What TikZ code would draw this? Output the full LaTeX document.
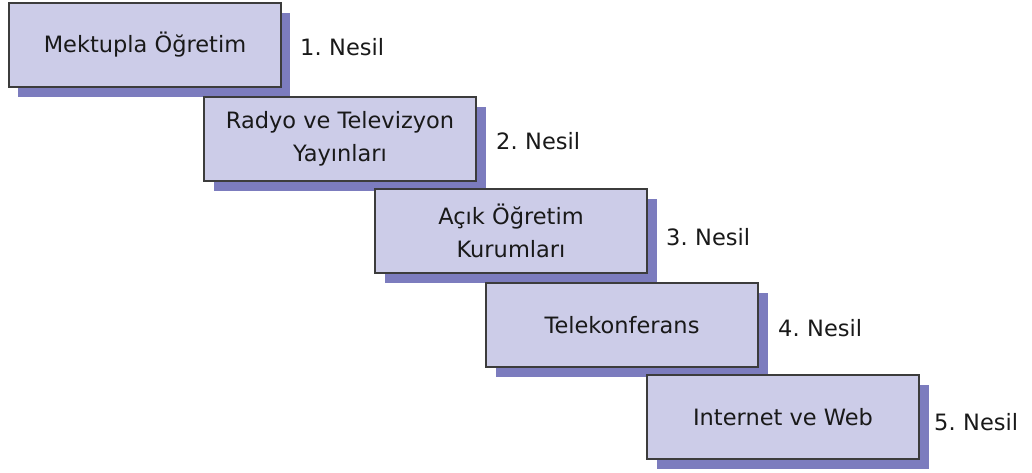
\documentclass[tikz,border=0pt]{standalone}
\usepackage{fontspec}
\setmainfont{DejaVu Sans}
\definecolor{boxfill}{RGB}{204,204,232}
\definecolor{boxshade}{RGB}{124,124,190}
\definecolor{boxline}{RGB}{60,60,60}
\definecolor{txt}{RGB}{25,25,25}
\begin{document}
\begin{tikzpicture}[x=1pt,y=-1pt,
  stage/.style={draw=boxline, line width=1.3pt, fill=boxfill, minimum width=272pt,
    minimum height=84pt, align=center, text=txt, font=\fontsize{22.5}{33}\selectfont,
    inner sep=0pt},
  gen/.style={anchor=west, text=txt, font=\fontsize{22.5}{26}\selectfont, inner sep=0pt}]
\useasboundingbox (0,0) rectangle (1032,472);
% shadows first, then the boxes on top
\foreach \x/\y in {8/3, 204/97, 375/189, 486/283, 647/375}
  \fill[boxshade] (\x+10,\y+10) rectangle (\x+282,\y+94);
\node[stage] (s1) at (145,45) {Mektupla Öğretim};
\node[stage] (s2) at (340,139) {Radyo ve Televizyon\\Yayınları};
\node[stage] (s3) at (511,231) {Açık Öğretim\\Kurumları};
\node[stage] (s4) at (622,325) {Telekonferans};
\node[stage] (s5) at (783,417) {Internet ve Web};
\node[gen] (g1) at (300,47) {1.\hspace{-2pt} Nesil};
\node[gen] (g2) at (496,141) {2.\hspace{-2pt} Nesil};
\node[gen] (g3) at (666,237) {3.\hspace{-2pt} Nesil};
\node[gen] (g4) at (778,328) {4.\hspace{-2pt} Nesil};
\node[gen] (g5) at (934,422) {5.\hspace{-2pt} Nesil};
\end{tikzpicture}
\end{document}
